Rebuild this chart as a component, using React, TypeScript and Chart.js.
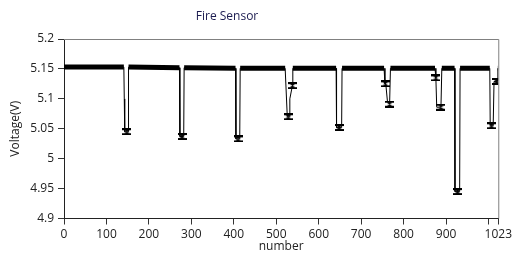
import React, { useEffect, useRef } from "react";
import { Chart, registerables } from "chart.js";

Chart.register(...registerables);

// ---- data ----
const chartTitle = "Fire Sensor";
const xAxisTitle = "number";
const yAxisTitle = "Voltage(V)";

// line path: sample number and voltage at each vertex of the trace
const sampleIndex = [
  0, 141, 142, 143, 151, 152,
  272, 273, 282, 283,
  404, 405, 414, 415,
  521, 526, 531, 532, 538, 539,
  641, 642, 654, 655,
  754, 756, 758, 762, 767, 769,
  874, 876, 878, 888, 890,
  920, 921, 932, 933,
  1003, 1004, 1011, 1013, 1020, 1022, 1023,
];
const voltage = [
  5.153, 5.153, 5.1, 5.045, 5.045, 5.153,
  5.152, 5.037, 5.037, 5.152,
  5.151, 5.033, 5.033, 5.151,
  5.151, 5.07, 5.07, 5.1, 5.122, 5.151,
  5.151, 5.052, 5.052, 5.151,
  5.151, 5.125, 5.125, 5.095, 5.091, 5.151,
  5.151, 5.135, 5.086, 5.086, 5.151,
  5.151, 4.945, 4.945, 5.151,
  5.151, 5.055, 5.055, 5.129, 5.129, 5.151, 5.151,
];

// hourglass markers at the low readings
const markerIndex = [148, 278, 410, 528, 538, 648, 757, 767, 876, 888, 927, 1007, 1019];
const markerVoltage = [5.045, 5.037, 5.033, 5.07, 5.122, 5.052, 5.125, 5.091, 5.135, 5.086, 4.945, 5.055, 5.129];

const xTickValues = [0, 100, 200, 300, 400, 500, 600, 700, 800, 900, 1000, 1023];
const xTickLabels = ["0", "100", "200", "300", "400", "500", "600", "700", "800", "900", "", "1023"];
const yTickValues = [4.9, 4.95, 5, 5.05, 5.1, 5.15, 5.2];
const yTickLabels = ["4.9", "4.95", "5", "5.05", "5.1", "5.15", "5.2"];

const BASELINE_MIN = 5.148;
const FONT = '"Open Sans", "DejaVu Sans", sans-serif';

function makeHourglass(): HTMLCanvasElement {
  const c = document.createElement("canvas");
  c.width = 9;
  c.height = 7;
  const g = c.getContext("2d")!;
  g.fillStyle = "#000";
  g.fillRect(0, 0, 9, 2);
  g.fillRect(0, 5, 9, 2);
  g.beginPath();
  g.moveTo(0, 1);
  g.lineTo(9, 1);
  g.lineTo(0, 6);
  g.lineTo(9, 6);
  g.closePath();
  g.fill();
  return c;
}

export default function App() {
  const ref = useRef<HTMLCanvasElement | null>(null);

  useEffect(() => {
    if (!ref.current) return;
    const marker = makeHourglass();

    const framePlugin = {
      id: "frame",
      afterDraw(chart: any) {
        const { ctx, chartArea } = chart;
        ctx.save();
        ctx.strokeStyle = "#808080";
        ctx.lineWidth = 1;
        ctx.beginPath();
        ctx.moveTo(chartArea.left, chartArea.top + 0.5);
        ctx.lineTo(chartArea.right + 0.5, chartArea.top + 0.5);
        ctx.lineTo(chartArea.right + 0.5, chartArea.bottom);
        ctx.stroke();
        ctx.fillStyle = "#1c1c50";
        ctx.font = "12px " + FONT;
        ctx.textAlign = "center";
        ctx.textBaseline = "middle";
        ctx.fillText(chartTitle, 227, 16.5);
        ctx.restore();
      },
    };

    const trace = sampleIndex.map((x, i) => ({ x, y: voltage[i] }));
    const band = sampleIndex.map((x, i) => ({
      x,
      y: voltage[i] >= BASELINE_MIN ? voltage[i] : null,
    }));

    const chart = new Chart(ref.current, {
      type: "line",
      data: {
        datasets: [
          {
            label: "markers",
            data: markerIndex.map((x, i) => ({ x, y: markerVoltage[i] })),
            showLine: false,
            pointStyle: marker as any,
            pointRadius: 4,
            order: 0,
          },
          {
            label: "band",
            data: band as any,
            borderColor: "#000",
            borderWidth: 5,
            borderCapStyle: "butt",
            pointRadius: 0,
            tension: 0,
            spanGaps: false,
            order: 1,
          },
          {
            label: "voltage",
            data: trace,
            borderColor: "#000",
            borderWidth: 1,
            pointRadius: 0,
            tension: 0,
            order: 2,
          },
        ],
      },
      options: {
        responsive: false,
        animation: false,
        layout: { padding: { top: 39, right: 13, left: 0, bottom: 0 } },
        plugins: {
          legend: { display: false },
          tooltip: { enabled: false },
          title: { display: false },
        },
        scales: {
          x: {
            type: "linear",
            min: 0,
            max: 1023,
            afterBuildTicks: (s: any) => {
              s.ticks = xTickValues.map((v) => ({ value: v }));
            },
            afterFit: (s: any) => {
              s.height = 42.5;
            },
            ticks: {
              autoSkip: false,
              maxRotation: 0,
              padding: 3,
              color: "#222",
              font: { family: FONT, size: 12 },
              callback: (v: any) => {
                const i = xTickValues.indexOf(Number(v));
                return i >= 0 ? xTickLabels[i] : "";
              },
            },
            grid: {
              drawOnChartArea: false,
              drawTicks: true,
              tickLength: 6,
              color: "#333",
            },
            border: { color: "#222", width: 1 },
            title: {
              display: true,
              text: xAxisTitle,
              color: "#222",
              font: { family: FONT, size: 12 },
              padding: { top: 0, bottom: 7 },
            },
          },
          y: {
            type: "linear",
            min: 4.9,
            max: 5.2,
            afterBuildTicks: (s: any) => {
              s.ticks = yTickValues.map((v) => ({ value: v }));
            },
            afterFit: (s: any) => {
              s.width = 64;
            },
            ticks: {
              autoSkip: false,
              padding: 4,
              color: "#222",
              font: { family: FONT, size: 12 },
              callback: (v: any) => {
                const i = yTickValues.findIndex((t) => Math.abs(t - Number(v)) < 1e-6);
                return i >= 0 ? yTickLabels[i] : "";
              },
            },
            grid: {
              drawOnChartArea: false,
              drawTicks: true,
              tickLength: 6,
              color: "#333",
            },
            border: { color: "#222", width: 1 },
            title: {
              display: true,
              text: yAxisTitle,
              color: "#222",
              font: { family: FONT, size: 12 },
              padding: { top: 8, bottom: 0 },
            },
          },
        },
      },
      plugins: [framePlugin],
    });
    return () => chart.destroy();
  }, []);

  return (
    <canvas
      ref={ref}
      width={515}
      height={261}
      style={{ position: "absolute", left: 0, top: 0, display: "block", background: "#fff" }}
    />
  );
}
